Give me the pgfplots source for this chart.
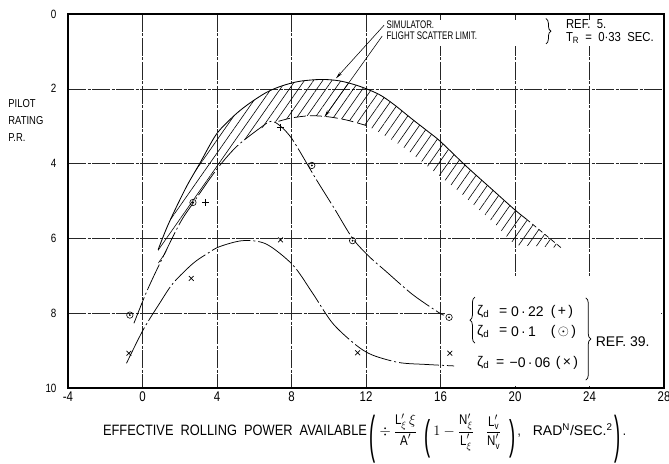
\documentclass[border=0pt]{standalone}
\usepackage{amsmath,amssymb}
\usepackage{graphicx}
\usepackage{fontspec}
\setmainfont{Liberation Sans}[FakeStretch=0.82]
\newfontfamily\narrow{Liberation Sans}[FakeStretch=0.72]
\newfontfamily\wide{Liberation Sans}[FakeStretch=0.87]
\newfontfamily\words{Liberation Sans}[FakeStretch=0.855]
\newfontfamily\full{Liberation Sans}
\usepackage{pgfplots}
\pgfplotsset{compat=1.18}
\usepgfplotslibrary{fillbetween}
\usetikzlibrary{patterns.meta,arrows.meta,decorations.pathreplacing}
\newcommand\lbl[3]{\node[anchor=west, inner sep=0pt, font=#1] at (axis cs:#2) {#3};}
\newcommand\tallp[3]{\raisebox{#2}{\scalebox{1.6}[#1]{#3}}}
\begin{document}
\begin{tikzpicture}
\begin{axis}[
  at={(0,0)}, anchor=south west,
  scale only axis, width=596pt, height=374pt,
  xmin=-4, xmax=28, ymin=0, ymax=10, y dir=reverse,
  xtick={-4,0,...,28}, ytick={0,2,...,10},
  major tick length=0pt,
  grid=major,
  grid style={black!85, line width=0.5pt, dash pattern=on 18pt off 1.5pt on 3pt off 1.5pt},
  axis line style={black, line width=1.1pt},
  /pgf/number format/assume math mode=true,
  xticklabel style={font=\fontsize{14}{14}\selectfont},
  yticklabel style={font=\fontsize{12}{12}\selectfont, xshift=-8pt},
  clip=false,
]
% blank the grid behind the annotations
\fill[white] (axis cs:12.8,0.15) rectangle (axis cs:27.85,0.85);
\fill[white] (axis cs:16.25,7.05) rectangle (axis cs:27.85,9.95);
% simulator boundary (path for hatching)
\addplot[name path=sim, draw=none, forget plot, smooth] coordinates {
(0.84,6.30) (1.3,5.72) (1.8,5.18) (2.4,4.58) (3.07,4.00) (3.96,3.22) (4.85,2.75)
(5.6,2.44) (6.64,2.10) (7.5,1.92) (8.43,1.80) (9.6,1.75) (10.6,1.79) (11.64,1.93)
(12.7,2.15) (13.5,2.42) (14.5,2.82) (15.3,3.13) (16.0,3.41) (17.36,4.06) (18.7,4.66)
(20.0,5.24) (20.6,5.48) (21.5,5.85) (22.5,6.26)};
% flight scatter limit (path for hatching)
\addplot[name path=flt, draw=none, forget plot, smooth] coordinates {
(0.84,6.30) (0.93,6.67) (2.0,5.6) (2.71,5.06) (3.96,4.17) (5.04,3.55) (6.0,3.17) (7.0,2.9)
(8.0,2.78) (9.0,2.72) (10.0,2.75) (11.0,2.84) (12.0,2.98) (13.0,3.25) (14.0,3.56)
(15.0,3.95) (16.0,4.35) (17.0,4.75) (18.0,5.2) (19.0,5.65) (20.0,6.15) (21.0,6.2) (22.5,6.26)};
\addplot[pattern={Lines[angle=55,distance=7.5pt,line width=0.6pt]}, draw=none, forget plot]
  fill between[of=sim and flt];
% simulator curve drawn
\addplot[black, line width=0.85pt, smooth] coordinates {
(0.84,6.30) (1.3,5.72) (1.8,5.18) (2.4,4.58) (3.07,4.00) (3.96,3.22) (4.85,2.75)
(5.6,2.44) (6.64,2.10) (7.5,1.92) (8.43,1.80) (9.6,1.75) (10.6,1.79) (11.64,1.93)
(12.7,2.15) (13.5,2.42) (14.5,2.82) (15.3,3.13) (16.0,3.41) (17.36,4.06) (18.7,4.66)
(20.0,5.24) (20.6,5.48)};
\addplot[black, line width=0.7pt, smooth, dash pattern=on 5pt off 3pt] coordinates {
(20.6,5.48) (21.5,5.85) (22.5,6.26)};
% flight scatter limit drawn part
\addplot[black, line width=0.75pt, smooth, dash pattern=on 12pt off 4pt] coordinates {
(7.3,2.87) (8.0,2.78) (9.0,2.72) (10.0,2.75) (11.0,2.84) (12.0,2.98)};
% zeta_d = 0.22 / 0.1 curve
\addplot[black, line width=0.75pt, smooth, dash pattern=on 28pt off 3pt on 2pt off 3pt] coordinates {
(-0.46,8.27) (0.2,7.45) (0.93,6.67) (2.0,5.6) (2.71,5.06) (3.96,4.17) (5.04,3.55)
(6.28,3.06) (6.9,2.87) (7.41,3.0) (8.07,3.37) (9.3,4.4) (10.3,5.2) (11.28,6.0)
(12.2,6.5) (13.07,6.88) (14.5,7.5) (15.93,7.99) (16.2,8.05)};
% zeta_d = -0.06 curve
\addplot[black, line width=0.75pt, smooth, dash pattern=on 40pt off 3pt on 2pt off 3pt] coordinates {
(-0.86,9.34) (0.03,8.45) (0.9,7.75) (1.64,7.2) (2.71,6.67) (3.5,6.4) (4.14,6.22)
(5.39,6.06) (6.64,6.15) (8.07,6.71) (9.14,7.47) (10.21,8.27) (11.46,8.85) (12.35,9.12)
(13.78,9.32) (15.21,9.37) (16.73,9.41)};
% data points
\addplot[only marks, mark=o, mark size=3.2pt, mark options={line width=0.6pt}] coordinates {
(-0.68,8.05) (2.71,5.04) (9.09,4.05) (11.28,6.06) (16.46,8.11)};
\addplot[only marks, mark=*, mark size=0.7pt] coordinates {
(-0.68,8.05) (2.71,5.04) (9.09,4.05) (11.28,6.06) (16.46,8.11)};
\addplot[only marks, mark=+, mark size=3.6pt, mark options={line width=0.7pt}] coordinates {
(3.39,5.04) (7.41,3.03)};
\addplot[only marks, mark=x, mark size=3.4pt, mark options={line width=0.7pt}] coordinates {
(-0.73,9.07) (2.62,7.07) (7.41,6.04) (11.55,9.06) (16.5,9.07)};
% annotations top
\draw[-{Stealth[length=7pt,width=3pt]}, line width=0.55pt] (axis cs:12.97,0.30) -- (axis cs:10.39,1.72);
\draw[-{Stealth[length=7pt,width=3pt]}, line width=0.55pt] (axis cs:12.87,0.59) -- (axis cs:9.77,2.75);
\lbl{\narrow\fontsize{11}{11}\selectfont}{13.09,0.29}{SIMULATOR.}
\lbl{\narrow\fontsize{11}{11}\selectfont}{13.09,0.58}{FLIGHT SCATTER LIMIT.}
\draw[decorate, decoration={brace, amplitude=5pt}, line width=0.75pt] (axis cs:21.66,0.12) -- (axis cs:21.66,0.80);
\lbl{\wide\fontsize{13}{13}\selectfont}{22.73,0.28}{REF.\ \ 5.}
\lbl{\wide\fontsize{13}{13}\selectfont}{22.73,0.64}{T\textsubscript{R}\ \ =\ \ 0·33\ \ SEC.}
% annotations right
\draw[decorate, decoration={brace, amplitude=5pt}, line width=0.75pt] (axis cs:17.85,8.80) -- (axis cs:17.85,7.57);
\draw[decorate, decoration={brace, amplitude=5pt}, line width=0.75pt] (axis cs:23.80,7.59) -- (axis cs:23.80,9.79);
\lbl{\full\fontsize{14}{14}\selectfont}{17.96,7.96}{ζ\textsubscript{d}}
\lbl{\full\fontsize{14}{14}\selectfont}{19.14,7.96}{=}
\lbl{\full\fontsize{14}{14}\selectfont}{19.78,7.96}{0\,·\,22}
\lbl{\full\fontsize{14}{14}\selectfont}{21.92,7.96}{(\,+\,)}
\lbl{\full\fontsize{14}{14}\selectfont}{17.96,8.49}{ζ\textsubscript{d}}
\lbl{\full\fontsize{14}{14}\selectfont}{19.14,8.49}{=}
\lbl{\full\fontsize{14}{14}\selectfont}{19.78,8.49}{0\,·\,1}
\lbl{\full\fontsize{14}{14}\selectfont}{21.92,8.49}{(\,$\odot$\,)}
\lbl{\full\fontsize{14}{14}\selectfont}{17.96,9.33}{ζ\textsubscript{d}}
\lbl{\full\fontsize{14}{14}\selectfont}{18.98,9.33}{=}
\lbl{\full\fontsize{14}{14}\selectfont}{19.7,9.33}{−0\,·\,06}
\lbl{\full\fontsize{14}{14}\selectfont}{22.19,9.33}{(\,×\,)}
\lbl{\full\fontsize{14}{14}\selectfont}{24.33,8.77}{REF.\ 39.}
% y label
\node[anchor=north west, align=left, inner sep=0pt, font=\fontsize{11.5}{17}\selectfont] at (axis cs:-7.21,2.28) {PILOT\\RATING\\P.R.};
% x label
\node[anchor=base west, inner sep=0pt, font=\words\fontsize{15}{15}\selectfont] at (axis cs:-2.13,11.28)
 {EFFECTIVE\ \ ROLLING\ \ POWER\ \ AVAILABLE};
\node[anchor=base west, inner sep=0pt, font=\fontsize{14}{14}\selectfont] at (axis cs:12.18,11.28)
 {\tallp{3.68}{-16.6pt}{(}\hspace{4pt}$\div$\hspace{3pt}$\dfrac{\text{L}'_{\xi}\,\xi}{\text{A}'}$\hspace{7pt}\tallp{2.96}{-13.7pt}{(}\hspace{3pt}$1-\dfrac{\text{N}'_{\xi}}{\text{L}'_{\xi}}$\hspace{12pt}$\dfrac{\text{L}_{\text{v}}'}{\text{N}_{\text{v}}'}$\hspace{8pt}\tallp{2.96}{-13.7pt}{)}\,,\hspace{12pt}{\full RAD\textsuperscript{N}/SEC.\textsuperscript{2}}\hspace{2pt}\tallp{3.68}{-16.6pt}{)}\,.};
\end{axis}
\pgfresetboundingbox
\path[use as bounding box] (-68pt,-75pt) rectangle (601pt,388pt);
\end{tikzpicture}
\end{document}
